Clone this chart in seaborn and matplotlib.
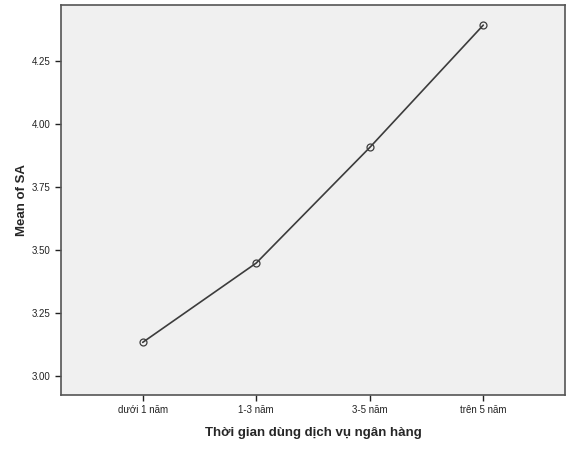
import pandas as pd
import matplotlib
matplotlib.use("Agg")
import matplotlib.pyplot as plt
import seaborn as sns

# Du lieu doc tu bieu do
categories = ["dưới 1 năm", "1-3 năm", "3-5 năm", "trên 5 năm"]
mean_sa = [3.134, 3.449, 3.908, 4.394]
y_ticks = [3.00, 3.25, 3.50, 3.75, 4.00, 4.25]

df = pd.DataFrame({"group": categories, "mean": mean_sa})

sns.set_style("ticks")
plt.rcParams["font.family"] = ["Liberation Sans", "DejaVu Sans"]

fig = plt.figure(figsize=(5.72, 4.49), dpi=100)
ax = fig.add_axes([0.1066, 0.1203, 0.8812, 0.8692])
ax.set_facecolor("#f0f0f0")

sns.lineplot(data=df, x="group", y="mean", ax=ax, color="#3c3c3c", linewidth=1.2,
             marker="o", markersize=5, markerfacecolor="none",
             markeredgecolor="#3c3c3c", markeredgewidth=0.9, sort=False)

ax.set_xlim(-0.72, 3.72)
ax.set_ylim(2.925, 4.475)
ax.set_yticks(y_ticks)
ax.set_yticklabels([f"{v:.2f}" for v in y_ticks])

ax.set_xlabel("Thời gian dùng dịch vụ ngân hàng", fontsize=9.5, fontweight="bold", labelpad=8)
ax.set_ylabel("Mean of SA", fontsize=9.5, fontweight="bold", labelpad=3)
ax.tick_params(axis="both", labelsize=7, colors="#222222", length=4, width=1, direction="out")

for s in ax.spines.values():
    s.set_color("#555555")
    s.set_linewidth(1.2)
    s.set_visible(True)

fig.savefig("out.png", dpi=100, facecolor="white")
